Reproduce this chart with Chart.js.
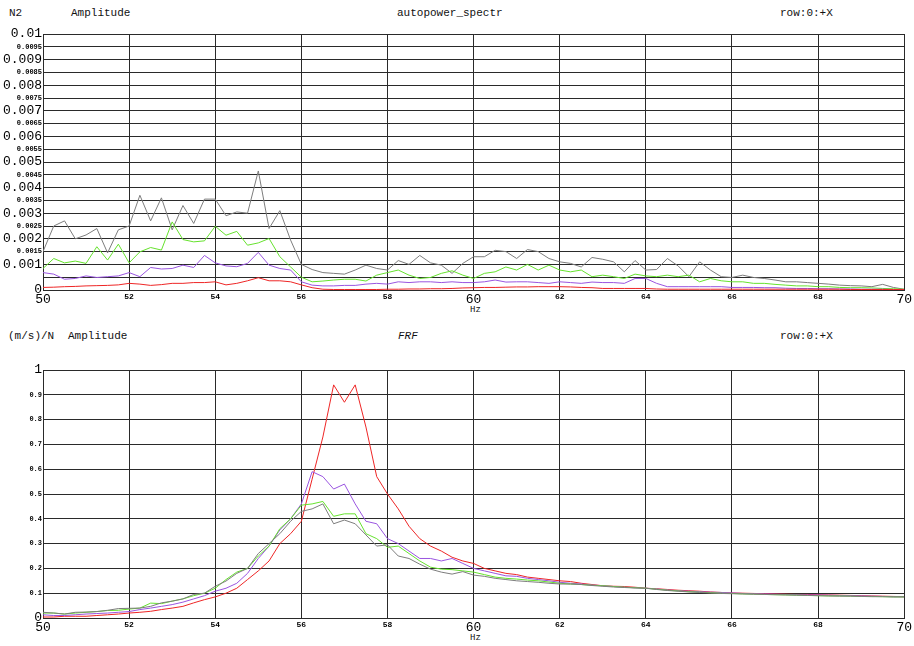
<!DOCTYPE html>
<html>
<head>
  <meta charset="UTF-8">
  <title>autopower_spectr / FRF</title>
  <script src="https://cdn.jsdelivr.net/npm/chart.js"></script>
  <style>
    body { margin: 0; background: #fff; width: 914px; height: 646px; position: relative; overflow: hidden; }
    .lbl { position: absolute; font-family: "Liberation Mono", "DejaVu Sans Mono", monospace; font-size: 11px; color: #111; white-space: nowrap; line-height: 12px; }
    canvas { position: absolute; left: 0; }
  </style>
</head>
<body>
  <!-- en-tetes graphique du haut -->
  <div class="lbl" style="left:9px;top:7px;">N2</div>
  <div class="lbl" style="left:71px;top:7px;">Amplitude</div>
  <div class="lbl" style="left:397px;top:7px;">autopower_spectr</div>
  <div class="lbl" style="left:780px;top:7px;">row:0:+X</div>
  <div class="lbl" style="left:470px;top:304px;font-size:9px;">Hz</div>

  <!-- en-tetes graphique du bas -->
  <div class="lbl" style="left:8px;top:330px;">(m/s)/N</div>
  <div class="lbl" style="left:68px;top:330px;">Amplitude</div>
  <div class="lbl" style="left:398px;top:330px;font-style:italic;">FRF</div>
  <div class="lbl" style="left:780px;top:330px;">row:0:+X</div>
  <div class="lbl" style="left:470px;top:632px;font-size:9px;">Hz</div>

  <canvas id="psdChart" width="914" height="320" style="top:0;"></canvas>
  <canvas id="frfChart" width="914" height="326" style="top:320px;"></canvas>

  <script>
    // frequences, pas de 0.25 Hz (50 -> 70)
    const freq = [
      50, 50.25, 50.5, 50.75, 51, 51.25, 51.5, 51.75,
      52, 52.25, 52.5, 52.75, 53, 53.25, 53.5, 53.75,
      54, 54.25, 54.5, 54.75, 55, 55.25, 55.5, 55.75,
      56, 56.25, 56.5, 56.75, 57, 57.25, 57.5, 57.75,
      58, 58.25, 58.5, 58.75, 59, 59.25, 59.5, 59.75,
      60, 60.25, 60.5, 60.75, 61, 61.25, 61.5, 61.75,
      62, 62.25, 62.5, 62.75, 63, 63.25, 63.5, 63.75,
      64, 64.25, 64.5, 64.75, 65, 65.25, 65.5, 65.75,
      66, 66.25, 66.5, 66.75, 67, 67.25, 67.5, 67.75,
      68, 68.25, 68.5, 68.75, 69, 69.25, 69.5, 69.75,
      70
    ];

    // autopower_spectr (N2)
    const psdGray = [
      0.0015, 0.0025, 0.0027, 0.0020, 0.00215, 0.0024, 0.00145, 0.00235,
      0.0025, 0.0037, 0.0027, 0.0036, 0.00235, 0.0033, 0.0026, 0.00355,
      0.00355, 0.0029, 0.00305, 0.0030, 0.00465, 0.0024, 0.0031, 0.00195,
      0.0010, 0.0008, 0.00068, 0.00065, 0.00062, 0.00078, 0.00097, 0.00084,
      0.00078, 0.00115, 0.0010, 0.00135, 0.00106, 0.00097, 0.00065, 0.00104,
      0.0013, 0.0013, 0.00155, 0.0015, 0.00123, 0.00158, 0.0015, 0.00123,
      0.0011, 0.00104, 0.0009, 0.00127, 0.0012, 0.0011, 0.00071, 0.00115,
      0.00078, 0.0008, 0.00123, 0.00094, 0.00052, 0.0011, 0.00078, 0.00052,
      0.00049, 0.00058, 0.00049, 0.00045, 0.00039, 0.00032, 0.00032, 0.00029,
      0.00026, 0.00023, 0.00019, 0.00017, 0.00016, 0.00013, 0.00022, 0.0001,
      0.00003
    ];
    const psdGreen = [
      0.00084, 0.00123, 0.00106, 0.00113, 0.00104, 0.00169, 0.00117, 0.00179,
      0.00106, 0.00149, 0.00166, 0.00156, 0.00266, 0.00197, 0.00188, 0.00192,
      0.00249, 0.00214, 0.00229, 0.00175, 0.00184, 0.00201, 0.0013, 0.0009,
      0.0005, 0.00032, 0.00035, 0.00039, 0.00042, 0.00042, 0.00035, 0.00058,
      0.00068, 0.00078, 0.00058, 0.00045, 0.00049, 0.00065, 0.00075, 0.00058,
      0.00045, 0.00065, 0.00071, 0.0009, 0.00078, 0.0010, 0.00078, 0.00097,
      0.00078, 0.00071, 0.00078, 0.00052, 0.00058, 0.00052, 0.00045, 0.00062,
      0.00055, 0.00052, 0.00058, 0.00052, 0.00058, 0.00032, 0.00045, 0.00036,
      0.00032, 0.00032, 0.00026, 0.00026, 0.00022, 0.00019, 0.00016, 0.00016,
      0.00013, 0.00013, 0.0001, 0.00009, 0.00009, 0.00008, 0.00006, 0.00005,
      0.00003
    ];
    const psdPurple = [
      0.00068, 0.00062, 0.00042, 0.00045, 0.00055, 0.00049, 0.00052, 0.00055,
      0.00068, 0.00052, 0.00088, 0.00082, 0.00084, 0.00097, 0.00088, 0.00135,
      0.00106, 0.00094, 0.00091, 0.00104, 0.00147, 0.00097, 0.00084, 0.00078,
      0.00032, 0.00019, 0.00016, 0.00016, 0.00018, 0.00018, 0.00023, 0.00026,
      0.00023, 0.00032, 0.00029, 0.00032, 0.00032, 0.00029, 0.00032, 0.00029,
      0.00029, 0.00032, 0.00039, 0.00031, 0.00032, 0.00032, 0.00029, 0.00026,
      0.00032, 0.00029, 0.00026, 0.00031, 0.00029, 0.00029, 0.00026, 0.00045,
      0.00045, 0.00026, 0.00013, 0.00013, 0.00013, 0.00013, 0.00013, 0.00013,
      0.0001, 0.0001, 0.0001, 0.00009, 0.00009, 0.00007, 0.00006, 0.00006,
      0.00005, 0.00005, 0.00004, 0.00004, 0.00003, 0.00003, 0.00003, 0.00002,
      0.00002
    ];
    const psdRed = [
      0.0001, 0.00011, 0.00013, 0.00014, 0.00016, 0.00017, 0.00018, 0.0002,
      0.00026, 0.00023, 0.00018, 0.00021, 0.00026, 0.00026, 0.00029, 0.00029,
      0.00032, 0.0002, 0.00026, 0.00036, 0.00048, 0.00036, 0.00036, 0.00032,
      0.0002, 0.00009, 0.00003, 0.00002, 0.00002, 0.00002, 0.00002, 0.00002,
      0.00003, 0.00003, 0.00004, 0.00004, 0.00005, 0.00005, 0.00006, 0.00008,
      0.00009, 0.0001, 0.0001, 0.00011, 0.00012, 0.00012, 0.00013, 0.00013,
      0.00013, 0.00012, 0.0001, 0.00009, 0.00006, 0.00006, 0.00006, 0.00006,
      0.00006, 0.00004, 0.00003, 0.00003, 0.00003, 0.00003, 0.00003, 0.00003,
      0.00003, 0.00003, 0.00003, 0.00003, 0.00003, 0.00003, 0.00003, 0.00003,
      0.00003, 0.00003, 0.00003, 0.00002, 0.00002, 0.00002, 0.00002, 0.00002,
      0.00002
    ];

    // FRF ((m/s)/N)
    const frfRed = [
      0.004, 0.004, 0.007, 0.007, 0.007, 0.01, 0.013, 0.016,
      0.02, 0.023, 0.027, 0.034, 0.04, 0.047, 0.061, 0.074,
      0.085, 0.10, 0.12, 0.155, 0.19, 0.23, 0.30, 0.34,
      0.39, 0.56, 0.73, 0.94, 0.87, 0.94, 0.77, 0.57,
      0.50, 0.44, 0.37, 0.32, 0.29, 0.27, 0.245, 0.23,
      0.22, 0.20, 0.19, 0.18, 0.175, 0.165, 0.16, 0.155,
      0.15, 0.147, 0.14, 0.135, 0.13, 0.128, 0.127, 0.124,
      0.12, 0.118, 0.115, 0.112, 0.11, 0.108, 0.105, 0.103,
      0.101, 0.1, 0.099, 0.098, 0.097, 0.096, 0.095, 0.095,
      0.094, 0.093, 0.092, 0.091, 0.09, 0.089, 0.088, 0.087,
      0.086
    ];
    const frfPurple = [
      0.013, 0.01, 0.01, 0.013, 0.016, 0.018, 0.02, 0.023,
      0.026, 0.034, 0.04, 0.047, 0.054, 0.064, 0.077, 0.09,
      0.108, 0.12, 0.14, 0.18, 0.24, 0.29, 0.355, 0.40,
      0.46, 0.59, 0.57, 0.52, 0.54, 0.46, 0.39, 0.38,
      0.32, 0.30, 0.27, 0.24, 0.24, 0.23, 0.24, 0.22,
      0.20, 0.19, 0.18, 0.17, 0.168, 0.16, 0.155, 0.15,
      0.144, 0.14, 0.137, 0.133, 0.13, 0.127, 0.124, 0.122,
      0.12, 0.117, 0.113, 0.11, 0.108, 0.106, 0.104, 0.103,
      0.101, 0.099, 0.098, 0.097, 0.096, 0.095, 0.094, 0.093,
      0.093, 0.092, 0.091, 0.09, 0.089, 0.088, 0.087, 0.086,
      0.086
    ];
    const frfGreen = [
      0.02, 0.02, 0.016, 0.02, 0.023, 0.026, 0.03, 0.031,
      0.036, 0.04, 0.06, 0.058, 0.068, 0.077, 0.09, 0.10,
      0.12, 0.155, 0.185, 0.2, 0.25, 0.29, 0.36, 0.40,
      0.455, 0.46, 0.47, 0.41, 0.42, 0.42, 0.34, 0.32,
      0.285, 0.29, 0.26, 0.23, 0.205, 0.197, 0.195, 0.19,
      0.185, 0.175, 0.165, 0.16, 0.157, 0.153, 0.15, 0.145,
      0.14, 0.137, 0.135, 0.132, 0.13, 0.127, 0.124, 0.122,
      0.12, 0.116, 0.112, 0.109, 0.106, 0.104, 0.102, 0.1,
      0.099, 0.097, 0.096, 0.095, 0.094, 0.093, 0.092, 0.091,
      0.09, 0.089, 0.089, 0.088, 0.087, 0.087, 0.086, 0.085,
      0.085
    ];
    const frfGray = [
      0.023, 0.02, 0.016, 0.023, 0.024, 0.026, 0.031, 0.038,
      0.039, 0.04, 0.047, 0.061, 0.068, 0.077, 0.095, 0.10,
      0.128, 0.149, 0.18, 0.20, 0.26, 0.30, 0.34, 0.39,
      0.43, 0.44, 0.46, 0.38, 0.395, 0.38, 0.335, 0.29,
      0.295, 0.25, 0.24, 0.217, 0.197, 0.185, 0.177, 0.187,
      0.173, 0.168, 0.16, 0.155, 0.15, 0.147, 0.144, 0.14,
      0.137, 0.137, 0.135, 0.131, 0.128, 0.125, 0.123, 0.121,
      0.12, 0.115, 0.111, 0.108, 0.105, 0.103, 0.101, 0.099,
      0.098, 0.097, 0.096, 0.095, 0.094, 0.093, 0.092, 0.091,
      0.09, 0.089, 0.088, 0.088, 0.087, 0.086, 0.086, 0.085,
      0.085
    ];

    // graduations
    const xTicks = [50, 52, 54, 56, 58, 60, 62, 64, 66, 68, 70];
    const xTickLabels = ['50', '52', '54', '56', '58', '60', '62', '64', '66', '68', '70'];
    const xBigLabels = ['50', '60', '70'];

    const psdTicks = [0, 0.0005, 0.001, 0.0015, 0.002, 0.0025, 0.003, 0.0035, 0.004, 0.0045, 0.005,
      0.0055, 0.006, 0.0065, 0.007, 0.0075, 0.008, 0.0085, 0.009, 0.0095, 0.01];
    const psdTickLabels = ['0', '', '0.001', '0.0015', '0.002', '0.0025', '0.003', '0.0035', '0.004', '0.0045', '0.005',
      '0.0055', '0.006', '0.0065', '0.007', '0.0075', '0.008', '0.0085', '0.009', '0.0095', '0.01'];
    const psdBigLabels = ['0', '0.001', '0.002', '0.003', '0.004', '0.005', '0.006', '0.007', '0.008', '0.009', '0.01'];

    const frfTicks = [0, 0.1, 0.2, 0.3, 0.4, 0.5, 0.6, 0.7, 0.8, 0.9, 1];
    const frfTickLabels = ['0', '0.1', '0.2', '0.3', '0.4', '0.5', '0.6', '0.7', '0.8', '0.9', '1'];
    const frfBigLabels = ['0', '1'];

    const COLORS = { gray: '#7d7d7d', green: '#66e22e', purple: '#9a55e0', red: '#ee2626' };
    const FONT = '"Liberation Mono", "DejaVu Sans Mono", monospace';

    function pts(arr) {
      return freq.map((f, i) => ({ x: f, y: arr[i] }));
    }

    function ds(arr, color) {
      return { data: pts(arr), borderColor: color, borderWidth: 1, pointRadius: 0, tension: 0, fill: false };
    }

    function makeOptions(yTicks, yLabels, yBig, yMax, padTop, xHeight) {
      return {
        responsive: false,
        animation: false,
        devicePixelRatio: 1,
        layout: { autoPadding: false, padding: { top: padTop, right: 6, left: 0, bottom: 0 } },
        plugins: { legend: { display: false }, tooltip: { enabled: false } },
        scales: {
          x: {
            type: 'linear', min: 50, max: 70,
            afterBuildTicks: s => { s.ticks = xTicks.map(v => ({ value: v })); },
            afterFit: s => { s.height = xHeight; },
            grid: { color: '#2a2a2a', lineWidth: 1, drawTicks: false },
            border: { color: '#2a2a2a' },
            ticks: {
              padding: 2, color: '#000', maxRotation: 0, autoSkip: false,
              callback: (v, i) => xTickLabels[i],
              font: c => xBigLabels.includes(xTickLabels[c.index])
                ? { family: FONT, size: 13 } : { family: FONT, size: 8, weight: 'bold' }
            }
          },
          y: {
            min: 0, max: yMax,
            afterBuildTicks: s => { s.ticks = yTicks.map(v => ({ value: v })); },
            afterFit: s => { s.width = 43; },
            grid: { color: '#2a2a2a', lineWidth: 1, drawTicks: false },
            border: { color: '#2a2a2a' },
            ticks: {
              padding: 1, color: '#000', autoSkip: false,
              callback: (v, i) => yLabels[i],
              font: c => yBig.includes(yLabels[c.index])
                ? { family: FONT, size: 13 } : { family: FONT, size: 7, weight: 'bold' }
            }
          }
        }
      };
    }

    new Chart(document.getElementById('psdChart'), {
      type: 'line',
      data: {
        datasets: [
          ds(psdRed, COLORS.red),
          ds(psdPurple, COLORS.purple),
          ds(psdGreen, COLORS.green),
          ds(psdGray, COLORS.gray)
        ]
      },
      options: makeOptions(psdTicks, psdTickLabels, psdBigLabels, 0.01, 34, 30)
    });

    new Chart(document.getElementById('frfChart'), {
      type: 'line',
      data: {
        datasets: [
          ds(frfGray, COLORS.gray),
          ds(frfGreen, COLORS.green),
          ds(frfPurple, COLORS.purple),
          ds(frfRed, COLORS.red)
        ]
      },
      options: makeOptions(frfTicks, frfTickLabels, frfBigLabels, 1, 50, 28)
    });
  </script>
</body>
</html>
